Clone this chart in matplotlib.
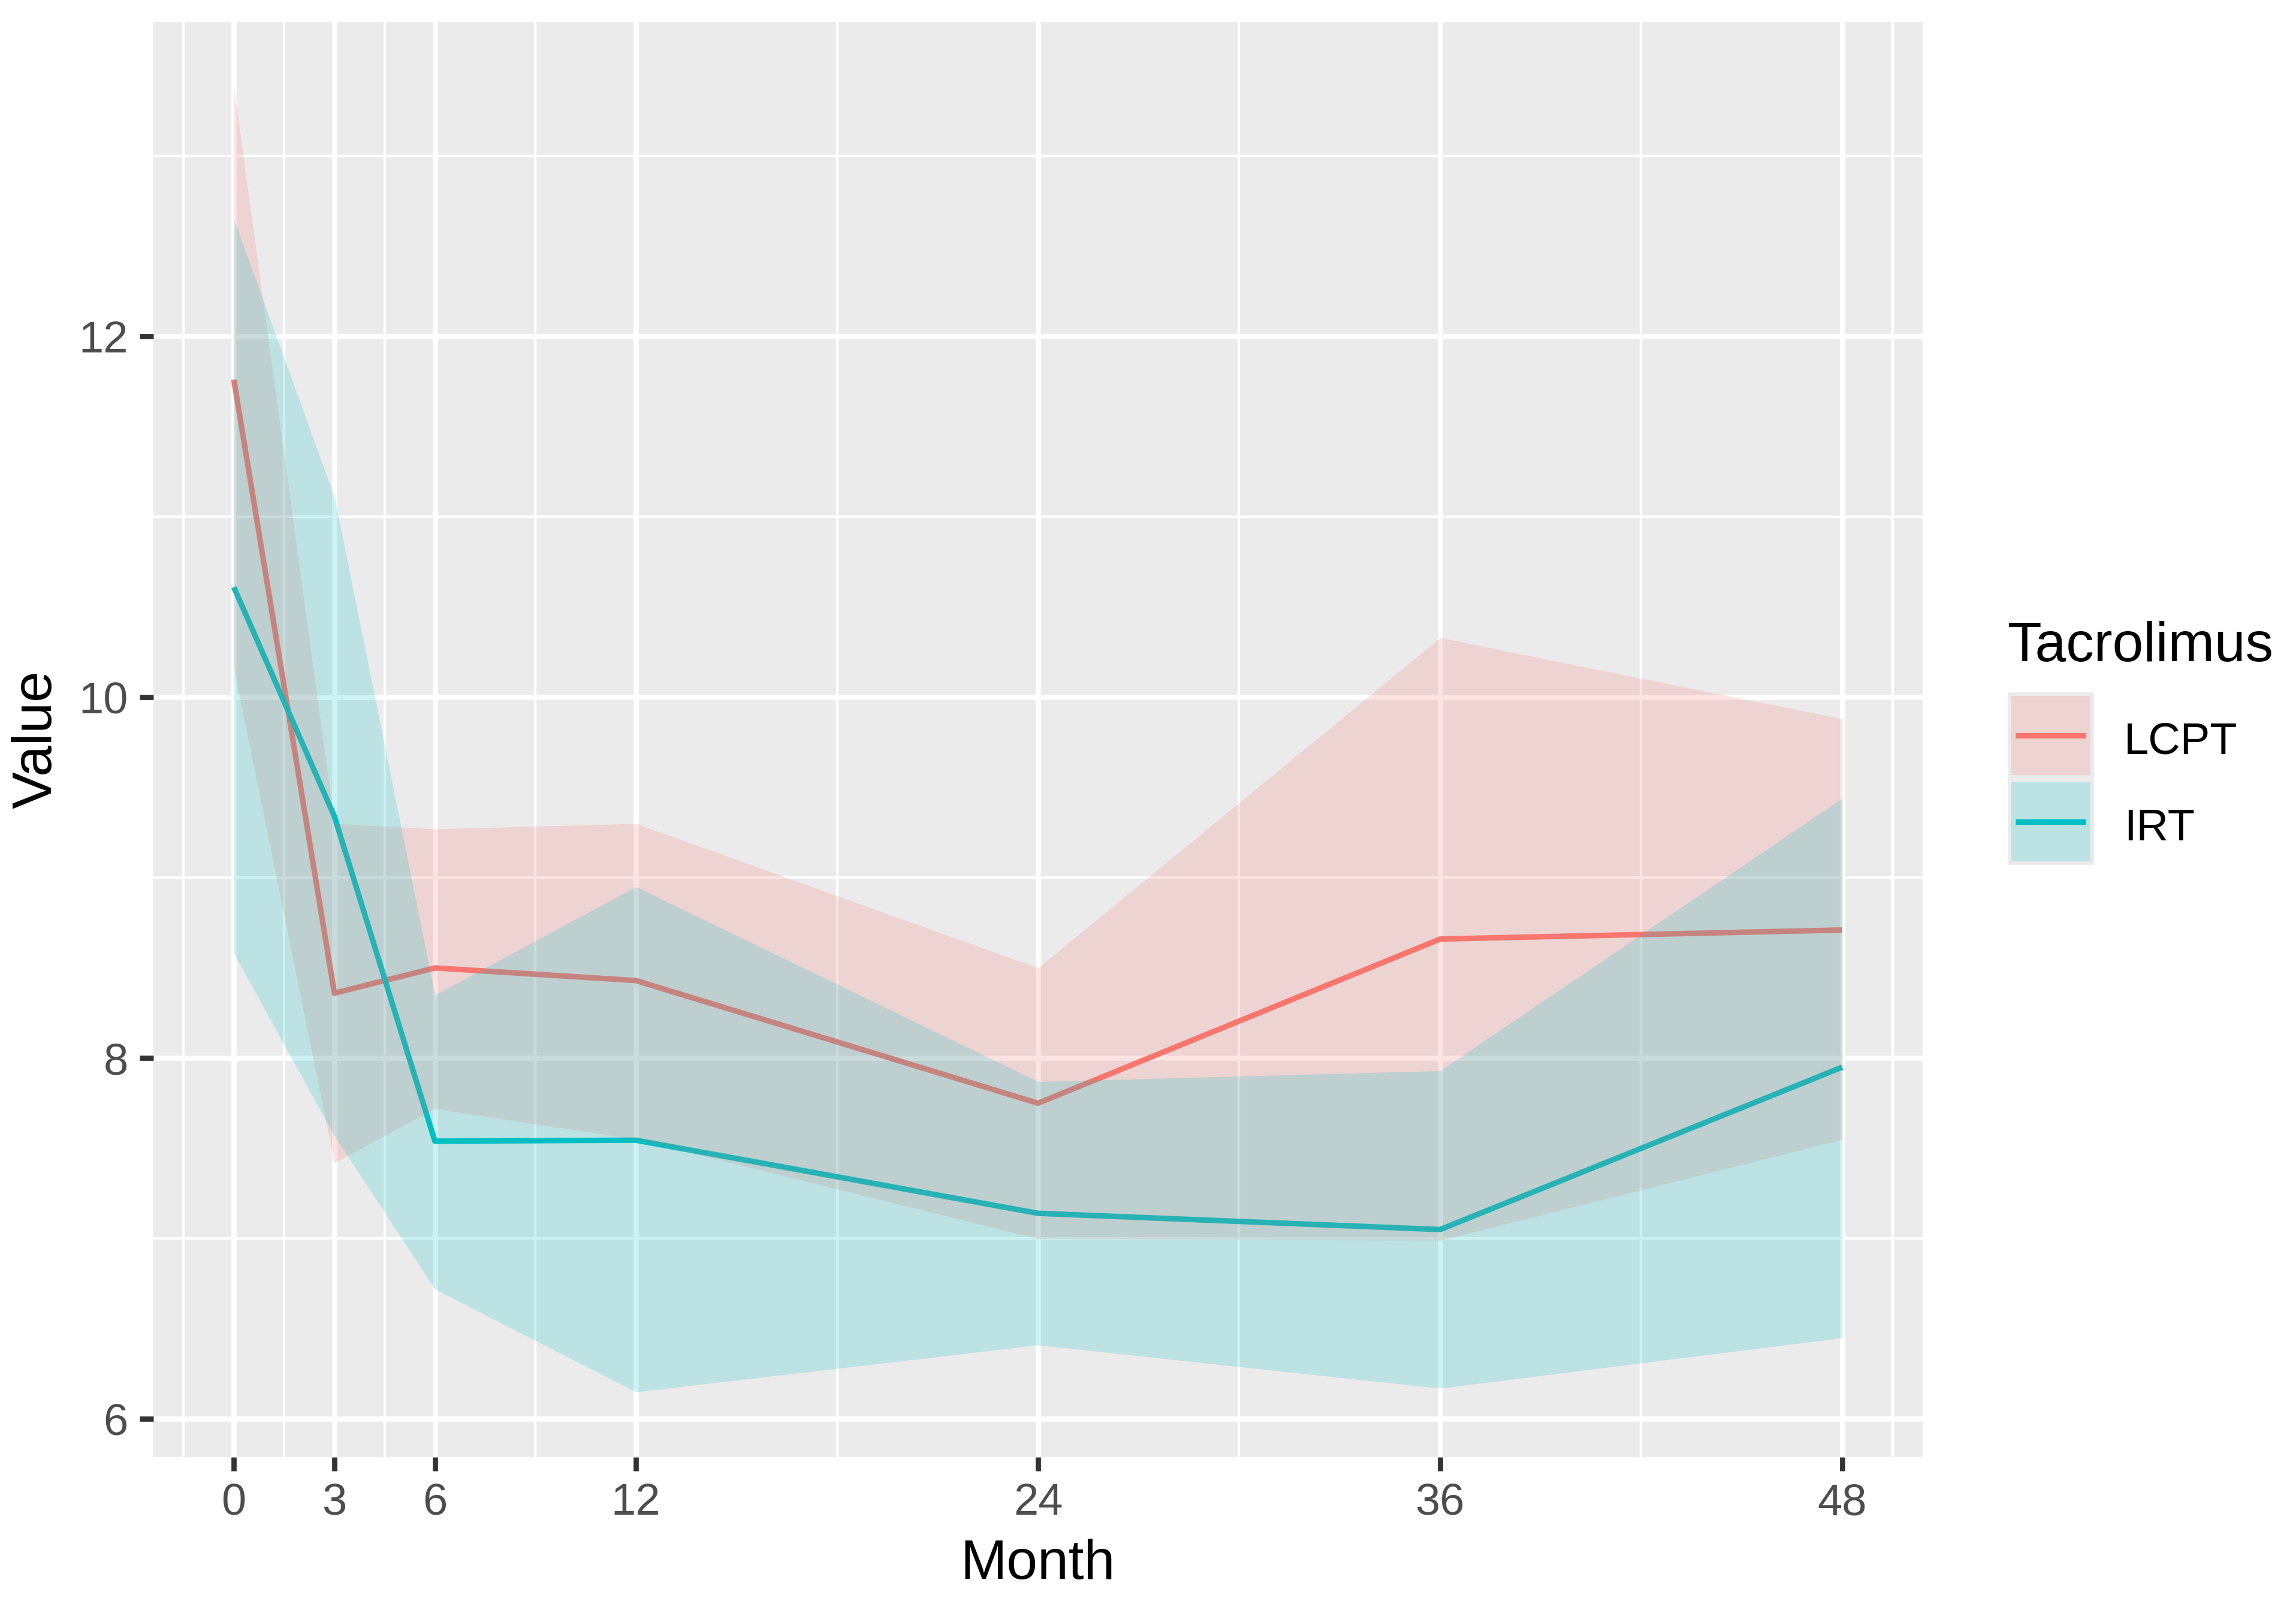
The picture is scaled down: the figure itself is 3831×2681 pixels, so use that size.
import numpy as np
import matplotlib
matplotlib.use('Agg')
import matplotlib.pyplot as plt
from matplotlib.patches import Rectangle
from matplotlib.lines import Line2D

W, H = 3831, 2681
DPI = 300

# data
months = [0, 3, 6, 12, 24, 36, 48]
groups = ['LCPT', 'IRT']
colors = ['#F8766D', '#00BFC4']

lcpt_mean = [11.76, 8.36, 8.50, 8.43, 7.75, 8.66, 8.71]
lcpt_lo = [10.16, 7.42, 7.72, 7.55, 7.00, 6.99, 7.55]
lcpt_hi = [13.38, 9.30, 9.27, 9.30, 8.50, 10.33, 9.88]

irt_mean = [10.61, 9.34, 7.54, 7.545, 7.14, 7.05, 7.95]
irt_lo = [8.58, 7.57, 6.72, 6.15, 6.41, 6.17, 6.45]
irt_hi = [12.65, 11.11, 8.35, 8.95, 7.87, 7.93, 9.44]

means = [lcpt_mean, irt_mean]
lows = [lcpt_lo, irt_lo]
highs = [lcpt_hi, irt_hi]

x_major = [0, 3, 6, 12, 24, 36, 48]
x_minor = [-1.5, 1.5, 4.5, 9, 18, 30, 42, 49.5]
y_major = [6, 8, 10, 12]
y_minor = [7, 9, 11, 13]

plt.rcParams['font.family'] = ['Liberation Sans', 'DejaVu Sans']

fig = plt.figure(figsize=(W / DPI, H / DPI), dpi=DPI)
fig.patch.set_facecolor('white')


def fx(px):
    return px / W


def fy(py):
    return 1 - py / H


# panel placement (pixels of the reference)
pl, pr, pt, pb = 256, 3208, 37, 2431
ax = fig.add_axes([fx(pl), fy(pb), fx(pr) - fx(pl), fy(pt) - fy(pb)])
ax.set_facecolor('#EBEBEB')
for s in ax.spines.values():
    s.set_visible(False)

# lines first, ribbons on top (as in the original)
for i in range(len(groups)):
    ax.plot(months, means[i], color=colors[i], lw=2.2, zorder=2, solid_capstyle='butt')
for i in range(len(groups)):
    ax.fill_between(months, lows[i], highs[i], color=colors[i], alpha=0.2, lw=0, zorder=3)

# limits with 5% expansion like ggplot
xmin, xmax = min(months), max(months)
allv = np.concatenate([np.array(lows).ravel(), np.array(highs).ravel(), np.array(means).ravel()])
ymin, ymax = allv.min(), allv.max()
dx = (xmax - xmin) * 0.05
dy = (ymax - ymin) * 0.05
ax.set_xlim(xmin - dx, xmax + dx)
ax.set_ylim(ymin - dy, ymax + dy)

ax.set_xticks(x_major)
ax.set_xticks(x_minor, minor=True)
ax.set_yticks(y_major)
ax.set_yticks(y_minor, minor=True)
ax.grid(True, which='major', color='white', lw=2.1, zorder=1)
ax.grid(True, which='minor', color='white', lw=1.05, zorder=1)
ax.set_axisbelow(True)
ax.tick_params(which='major', length=5.5, width=2.1, color='#333333',
               labelsize=17.8, labelcolor='#4D4D4D', pad=4.6)
ax.tick_params(which='minor', length=0)

ax.set_xlabel('Month', fontsize=22.3, color='black', labelpad=6)
ax.set_ylabel('Value', fontsize=22.3, color='black', labelpad=6.5)

# legend drawn by hand to mimic ggplot keys
fig.text(fx(3350), fy(1103), 'Tacrolimus', fontsize=22.3, ha='left', va='baseline')
key_top = 1155
key_h = 144
for i, g in enumerate(groups):
    y0 = key_top + i * key_h
    fig.add_artist(Rectangle((fx(3350), fy(y0 + key_h)), fx(3494) - fx(3350),
                             fy(y0) - fy(y0 + key_h), transform=fig.transFigure,
                             facecolor='#EBEBEB', edgecolor='none'))
    fig.add_artist(Rectangle((fx(3356), fy(y0 + key_h - 6)), fx(3488) - fx(3356),
                             fy(y0 + 6) - fy(y0 + key_h - 6), transform=fig.transFigure,
                             facecolor=colors[i], alpha=0.2, edgecolor='none'))
    yc = y0 + key_h / 2
    fig.add_artist(Line2D([fx(3363), fx(3480)], [fy(yc), fy(yc)], transform=fig.transFigure,
                          color=colors[i], lw=2.2, solid_capstyle='butt'))
    fig.text(fx(3544), fy(yc + 31), g, fontsize=17.8, ha='left', va='baseline')

fig.savefig('out.png', dpi=DPI)
